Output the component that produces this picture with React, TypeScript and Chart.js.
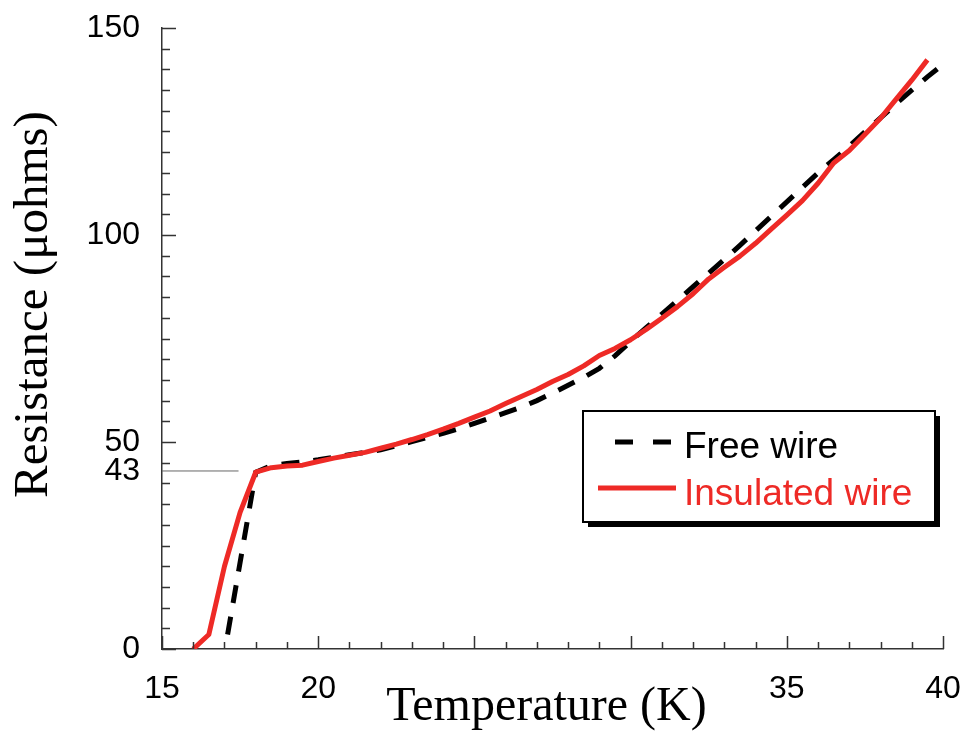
import React, { useEffect, useRef } from "react";
import { Chart, registerables } from "chart.js";

Chart.register(...registerables);

// Free wire (dashed black)
const freeTemps = [17.1, 18.0, 18.5, 19.0, 19.5, 20.0, 20.5, 21.0, 21.5, 22.0, 22.5, 23.0, 23.5, 24.0, 24.5, 25.0, 25.5, 26.0, 26.5, 27.0, 27.5, 28.0, 28.5, 29.0, 29.5, 30.0, 30.5, 31.0, 31.5, 32.0, 32.5, 33.0, 33.5, 34.0, 34.5, 35.0, 35.5, 36.0, 36.5, 37.0, 37.5, 38.0, 38.5, 39.0, 39.5, 40.0];
const freeRes = [3.5, 42.7, 44.3, 44.8, 45.2, 45.7, 46.3, 46.9, 47.5, 48.1, 49.1, 50.1, 51.1, 52.1, 53.2, 54.5, 55.8, 57.1, 58.4, 60.0, 61.8, 63.7, 65.6, 67.8, 70.8, 74.3, 77.6, 80.9, 84.2, 87.5, 90.8, 94.1, 97.5, 101.0, 104.5, 108.0, 111.5, 115.0, 118.2, 121.5, 124.9, 128.3, 131.7, 135.0, 138.2, 141.2];

// Insulated wire (solid red)
const insTemps = [16.0, 16.5, 17.0, 17.5, 18.0, 18.5, 19.0, 19.5, 20.0, 20.5, 21.0, 21.5, 22.0, 22.5, 23.0, 23.5, 24.0, 24.5, 25.0, 25.5, 26.0, 26.5, 27.0, 27.5, 28.0, 28.5, 29.0, 29.5, 30.0, 30.5, 31.0, 31.5, 32.0, 32.5, 33.0, 33.5, 34.0, 34.5, 35.0, 35.5, 36.0, 36.5, 37.0, 37.5, 38.0, 38.5, 39.0, 39.5];
const insRes = [0, 3.5, 20.0, 33.0, 42.7, 43.8, 44.2, 44.4, 45.3, 46.1, 46.8, 47.5, 48.5, 49.5, 50.6, 51.8, 53.1, 54.5, 56.0, 57.5, 59.3, 61.0, 62.7, 64.6, 66.3, 68.4, 70.9, 72.6, 74.7, 77.2, 79.9, 82.7, 85.8, 89.4, 92.2, 94.9, 98.0, 101.4, 104.8, 108.3, 112.5, 117.4, 120.4, 124.3, 128.2, 132.8, 137.4, 142.3];

const xTickValues = [15, 20, 35, 40];
const yTickValues = [0, 43, 50, 100, 150];
const refLevel = 43;
const refLineT = [15, 17.45];

const legendLabels = ["Free wire", "Insulated wire"];
const RED = "#ee2a26";
const AXIS = "#333333";

const decorPlugin = {
  id: "decor",
  afterDraw(chart: any) {
    const { ctx, chartArea } = chart;
    const x = chart.scales.x;
    const y = chart.scales.y;
    const { left, right, top, bottom } = chartArea;
    ctx.save();
    // inward tick marks
    ctx.strokeStyle = AXIS;
    ctx.lineWidth = 1.5;
    ctx.beginPath();
    for (let v = 15; v <= 40; v += 1) {
      const px = Math.round(x.getPixelForValue(v)) + 0.5;
      const len = v % 5 === 0 ? 13 : 7;
      ctx.moveTo(px, bottom);
      ctx.lineTo(px, bottom - len);
    }
    for (let v = 0; v <= 150; v += 5) {
      const py = Math.round(y.getPixelForValue(v)) + 0.5;
      const len = v % 50 === 0 ? 14 : 8;
      ctx.moveTo(left, py);
      ctx.lineTo(left + len, py);
    }
    ctx.stroke();

    // axis titles
    ctx.fillStyle = "#000";
    ctx.font = '48px "Liberation Serif", "Times New Roman", serif';
    ctx.textAlign = "center";
    ctx.textBaseline = "alphabetic";
    ctx.fillText("Temperature (K)", (left + right) / 2 - 6, bottom + 71);
    ctx.save();
    ctx.translate(47, (top + bottom) / 2 - 34);
    ctx.rotate(-Math.PI / 2);
    ctx.font = '49px "Liberation Serif", "Times New Roman", serif';
    ctx.fillText("Resistance (\u03bcohms)", 0, 0);
    ctx.restore();

    // legend box
    const bx = left + 421;
    const by = top + 383;
    const bw = 352;
    const bh = 111;
    ctx.fillStyle = "#000";
    ctx.fillRect(bx + 5, by + 5, bw, bh);
    ctx.fillStyle = "#fff";
    ctx.fillRect(bx, by, bw, bh);
    ctx.strokeStyle = "#000";
    ctx.lineWidth = 2;
    ctx.strokeRect(bx, by, bw, bh);

    ctx.lineWidth = 5;
    ctx.strokeStyle = "#000";
    ctx.setLineDash([18, 20]);
    ctx.beginPath();
    ctx.moveTo(bx + 32, by + 31);
    ctx.lineTo(bx + 90, by + 31);
    ctx.stroke();
    ctx.setLineDash([]);
    ctx.strokeStyle = RED;
    ctx.beginPath();
    ctx.moveTo(bx + 15, by + 77);
    ctx.lineTo(bx + 93, by + 77);
    ctx.stroke();

    ctx.font = '37px "Liberation Sans", Arial, sans-serif';
    ctx.textAlign = "left";
    ctx.fillStyle = "#000";
    ctx.fillText(legendLabels[0], bx + 101, by + 47);
    ctx.fillStyle = RED;
    ctx.fillText(legendLabels[1], bx + 101, by + 94);
    ctx.restore();
  },
};

const zeroPad = (s: any) => {
  s.paddingLeft = 0;
  s.paddingRight = 0;
  s.paddingTop = 0;
  s.paddingBottom = 0;
};

export default function App() {
  const ref = useRef<HTMLCanvasElement | null>(null);
  useEffect(() => {
    if (!ref.current) return;
    const tickFont = { family: '"Liberation Sans", Arial, sans-serif', size: 32 };
    const chart = new Chart(ref.current, {
      type: "line",
      data: {
        datasets: [
          {
            label: legendLabels[1],
            data: insTemps.map((t, i) => ({ x: t, y: insRes[i] })),
            borderColor: RED,
            borderWidth: 5,
            pointRadius: 0,
            tension: 0,
            borderJoinStyle: "round",
            order: 0,
          },
          {
            label: legendLabels[0],
            data: freeTemps.map((t, i) => ({ x: t, y: freeRes[i] })),
            borderColor: "#000",
            borderWidth: 5,
            borderDash: [18, 14],
            pointRadius: 0,
            tension: 0,
            order: 1,
          },
          {
            label: "ref",
            data: refLineT.map((t) => ({ x: t, y: refLevel })),
            borderColor: "#666",
            borderWidth: 1,
            pointRadius: 0,
            order: 2,
          },
        ],
      },
      options: {
        responsive: false,
        animation: false,
        layout: { padding: { top: 28, right: 22, left: 0, bottom: 0 } },
        plugins: { legend: { display: false }, tooltip: { enabled: false } },
        scales: {
          x: {
            type: "linear",
            min: 15,
            max: 40,
            afterBuildTicks: (s: any) => {
              s.ticks = xTickValues.map((v) => ({ value: v }));
            },
            afterFit: (s: any) => {
              s.height = 82;
              zeroPad(s);
            },
            grid: { display: false, drawTicks: false },
            border: { display: true, color: AXIS, width: 1.5 },
            ticks: { autoSkip: false, maxRotation: 0, padding: 21, color: "#000", font: tickFont },
          },
          y: {
            type: "linear",
            min: 0,
            max: 150,
            afterBuildTicks: (s: any) => {
              s.ticks = yTickValues.map((v) => ({ value: v }));
            },
            afterFit: (s: any) => {
              s.width = 162;
              zeroPad(s);
            },
            grid: { display: false, drawTicks: false },
            border: { display: true, color: AXIS, width: 1.5 },
            ticks: { autoSkip: false, padding: 22, color: "#000", font: tickFont },
          },
        },
      },
      plugins: [decorPlugin],
    } as any);
    return () => chart.destroy();
  }, []);
  return (
    <div style={{ position: "absolute", left: 0, top: 0, width: 965, height: 731, background: "#fff" }}>
      <canvas ref={ref} width={965} height={731} style={{ display: "block" }} />
    </div>
  );
}
